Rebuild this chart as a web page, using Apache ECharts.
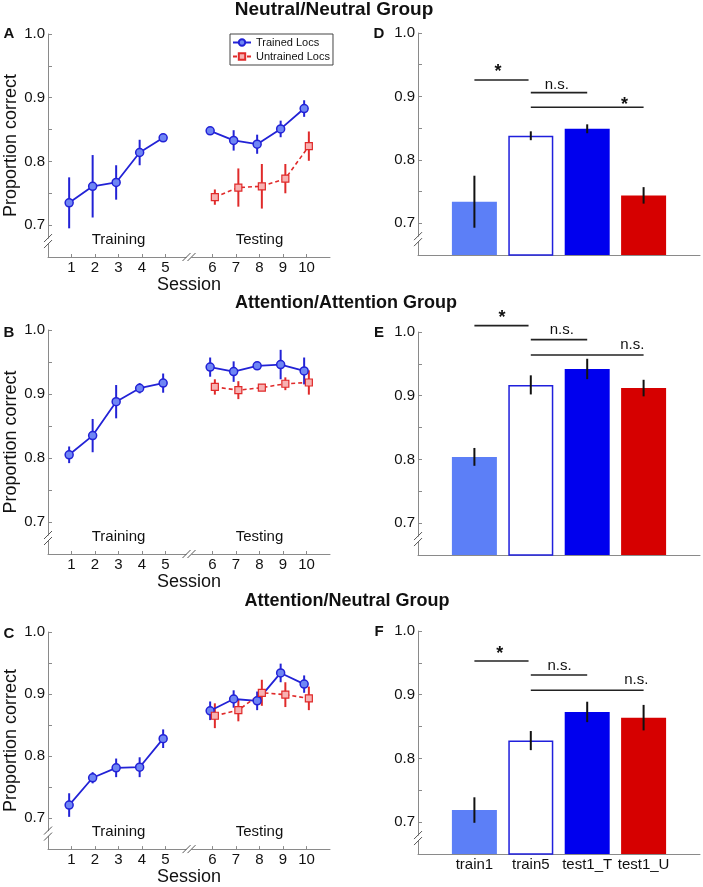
<!DOCTYPE html>
<html>
<head>
<meta charset="utf-8">
<script src="https://cdn.jsdelivr.net/npm/echarts@6/dist/echarts.min.js"></script>
<style>
  html, body { margin: 0; padding: 0; background: #fff; }
  #chart { width: 703px; height: 887px; }
</style>
</head>
<body>
<div id="chart"></div>
<script>
// ---- data ----
const sessions = [1, 2, 3, 4, 5, 6, 7, 8, 9, 10]
const testSessions = [6, 7, 8, 9, 10]
const barCategories = ['train1', 'train5', 'test1_T', 'test1_U']
const phaseLabels = ['Training', 'Testing']

// panel A : Neutral/Neutral
const trainedA = [0.735, 0.761, 0.767, 0.814, 0.837, 0.848, 0.833, 0.827, 0.851, 0.883]
const trainedErrA = [0.040, 0.049, 0.027, 0.020, 0.004, 0.006, 0.016, 0.015, 0.013, 0.013]
const untrainedA = [0.744, 0.759, 0.761, 0.773, 0.824]
const untrainedErrA = [0.012, 0.030, 0.035, 0.023, 0.023]

// panel B : Attention/Attention
const trainedB = [0.805, 0.835, 0.888, 0.909, 0.917, 0.942, 0.935, 0.944, 0.946, 0.936]
const trainedErrB = [0.013, 0.026, 0.026, 0.008, 0.015, 0.015, 0.016, 0.004, 0.023, 0.021]
const untrainedB = [0.911, 0.906, 0.910, 0.916, 0.918]
const untrainedErrB = [0.012, 0.014, 0.005, 0.010, 0.019]

// panel C : Attention/Neutral
const trainedC = [0.721, 0.765, 0.781, 0.782, 0.828, 0.873, 0.892, 0.889, 0.934, 0.916]
const trainedErrC = [0.019, 0.009, 0.015, 0.016, 0.015, 0.015, 0.014, 0.015, 0.015, 0.014]
const untrainedC = [0.865, 0.874, 0.902, 0.899, 0.893]
const untrainedErrC = [0.020, 0.018, 0.021, 0.020, 0.019]

// bar panels D, E, F
const barsD = [0.734, 0.838, 0.849, 0.744]
const barErrD = [0.041, 0.007, 0.007, 0.013]
const barsE = [0.804, 0.917, 0.942, 0.912]
const barErrE = [0.014, 0.015, 0.016, 0.013]
const barsF = [0.719, 0.828, 0.873, 0.864]
const barErrF = [0.020, 0.015, 0.016, 0.020]

// significance brackets: [fromBar, toBar, y] and their labels
const sigLinesD = [[1, 1.96, 0.926], [2, 3, 0.906], [2, 4, 0.883]]
const sigTextD = ['*', 'n.s.', '*']
const sigLinesE = [[1, 1.96, 1.010], [2, 3, 0.988], [2, 4, 0.964]]
const sigTextE = ['*', 'n.s.', 'n.s.']
const sigLinesF = [[1, 1.96, 0.953], [2, 3, 0.931], [2, 4, 0.907]]
const sigTextF = ['*', 'n.s.', 'n.s.']

// ---- styling ----
const FONT = '"Liberation Sans", Arial, Helvetica, sans-serif'
const BLUE = '#2222d6'
const BLUE_FILL = '#6f86f4'
const RED = '#e02a2a'
const RED_FILL = '#f7b2b2'
const AXIS = '#8a8a8a'
const TEXT = '#111'

const lineGrids = [
  { left: 48, top: 34, width: 282, height: 223 },
  { left: 48, top: 330, width: 282, height: 224 },
  { left: 48, top: 632, width: 282, height: 221 },
]
const barGrids = [
  { left: 418, top: 33, width: 282, height: 222 },
  { left: 418, top: 332, width: 282, height: 223 },
  { left: 418, top: 631, width: 282, height: 223 },
]

// sessions 6-10 sit one slot further right (axis break)
const pos = (s) => (s <= 5 ? s : s + 1)
const tickPositions = sessions.map(pos)
const OFF_T = -0.1
const OFF_U = 0.1

const yLabel = (v) => {
  const k = Math.round(v * 100)
  return k % 10 === 0 && k >= 70 ? (k / 100).toFixed(1) : ''
}

const yAxisFor = (gridIndex, named) => ({
  gridIndex,
  type: 'value',
  min: 0.65,
  max: 1.0,
  interval: 0.05,
  axisLine: { show: true, lineStyle: { color: AXIS, width: 1 } },
  axisTick: { show: true, inside: true, length: 4, lineStyle: { color: AXIS } },
  splitLine: { show: false },
  axisLabel: {
    fontFamily: FONT, fontSize: 15, color: TEXT, margin: 3,
    showMinLabel: true, showMaxLabel: true, formatter: yLabel,
  },
  name: named ? 'Proportion correct' : '',
  nameLocation: 'middle',
  nameGap: 26,
  nameTextStyle: { fontFamily: FONT, fontSize: 18, color: TEXT },
})

const sessionXAxis = (gridIndex) => ({
  gridIndex,
  type: 'value',
  min: 0,
  max: 12,
  interval: 1,
  axisLine: { show: true, lineStyle: { color: AXIS } },
  axisTick: { show: true, inside: true, length: 3, customValues: tickPositions, lineStyle: { color: AXIS } },
  splitLine: { show: false },
  axisLabel: {
    customValues: tickPositions,
    fontFamily: FONT, fontSize: 15, color: TEXT, margin: 3,
    formatter: (v) => {
      const i = tickPositions.indexOf(Math.round(v))
      return i >= 0 ? String(sessions[i]) : ''
    },
  },
  name: 'Session',
  nameLocation: 'middle',
  nameGap: 14,
  nameTextStyle: { fontFamily: FONT, fontSize: 18, color: TEXT },
})

const barXAxis = (gridIndex, showLabels) => ({
  gridIndex,
  type: 'value',
  min: 0,
  max: 5,
  interval: 1,
  axisLine: { show: true, lineStyle: { color: AXIS } },
  axisTick: { show: false },
  splitLine: { show: false },
  axisLabel: {
    show: showLabels,
    customValues: [1, 2, 3, 4],
    fontFamily: FONT, fontSize: 15, color: TEXT, margin: 3,
    formatter: (v) => barCategories[Math.round(v) - 1] || '',
  },
})

// ---- series helpers ----
const errorBars = (idx, items, color, width, z) => ({
  type: 'custom',
  xAxisIndex: idx,
  yAxisIndex: idx,
  silent: true,
  z,
  data: items,
  encode: { x: 0, y: [1, 2] },
  renderItem: (params, api) => {
    const lo = api.coord([api.value(0), api.value(1)])
    const hi = api.coord([api.value(0), api.value(2)])
    return {
      type: 'line',
      shape: { x1: lo[0], y1: lo[1], x2: hi[0], y2: hi[1] },
      style: { stroke: color, lineWidth: width },
    }
  },
})

const textMarks = (idx, points, texts) => ({
  type: 'custom',
  xAxisIndex: idx,
  yAxisIndex: idx,
  silent: true,
  z: 6,
  data: points,
  encode: { x: 0, y: 1 },
  renderItem: (params, api) => {
    const p = api.coord([api.value(0), api.value(1)])
    const t = texts[params.dataIndex]
    const star = t === '*'
    return {
      type: 'text',
      x: p[0],
      y: p[1] + (star ? 5 : 0),
      style: {
        text: t, fill: TEXT,
        font: (star ? 'bold 18px ' : '15px ') + FONT,
        align: 'center', verticalAlign: 'middle',
      },
    }
  },
})

const sigLines = (idx, lines) => ({
  type: 'custom',
  xAxisIndex: idx,
  yAxisIndex: idx,
  silent: true,
  z: 5,
  data: lines,
  encode: { x: [0, 1], y: 2 },
  renderItem: (params, api) => {
    const a = api.coord([api.value(0), api.value(2)])
    const b = api.coord([api.value(1), api.value(2)])
    return {
      type: 'line',
      shape: { x1: a[0], y1: a[1], x2: b[0], y2: b[1] },
      style: { stroke: '#222', lineWidth: 1.6 },
    }
  },
})

// axis break "//" marks: [x, y, 1 = on x axis]
const breakMarks = (idx, items) => ({
  type: 'custom',
  xAxisIndex: idx,
  yAxisIndex: idx,
  silent: true,
  z: 7,
  data: items,
  encode: { x: 0, y: 1 },
  renderItem: (params, api) => {
    const p = api.coord([api.value(0), api.value(1)])
    const onX = api.value(2) === 1
    const children = [{
      type: 'rect',
      shape: { x: p[0] - 2.5, y: p[1] - 2.5, width: 5, height: 5 },
      style: { fill: '#fff' },
    }]
    const shifts = onX ? [-2.5, 2.5] : [-3, 3]
    shifts.forEach((d) => {
      const cx = onX ? p[0] + d : p[0]
      const cy = onX ? p[1] : p[1] + d
      children.push({
        type: 'line',
        shape: { x1: cx - 4, y1: cy + 4, x2: cx + 4, y2: cy - 4 },
        style: { stroke: '#555', lineWidth: 1 },
      })
    })
    return { type: 'group', children }
  },
})

const trainedLine = (idx, data) => ({
  type: 'line',
  name: 'Trained Locs',
  xAxisIndex: idx,
  yAxisIndex: idx,
  data,
  z: 3,
  symbol: 'circle',
  symbolSize: 8,
  lineStyle: { color: BLUE, width: 1.8 },
  itemStyle: { color: BLUE_FILL, borderColor: BLUE, borderWidth: 1.5 },
  animation: false,
})

const untrainedLine = (idx, data) => ({
  type: 'line',
  name: 'Untrained Locs',
  xAxisIndex: idx,
  yAxisIndex: idx,
  data,
  z: 3,
  symbol: 'rect',
  symbolSize: 7,
  lineStyle: { color: RED, width: 1.6, type: [4, 3] },
  itemStyle: { color: RED_FILL, borderColor: RED, borderWidth: 1.2 },
  animation: false,
})

const linePanel = (idx, trained, trainedErr, untrained, untrainedErr) => {
  const tPts = sessions.map((s, i) => [pos(s) + OFF_T, trained[i]])
  const uPts = testSessions.map((s, i) => [pos(s) + OFF_U, untrained[i]])
  const tErr = sessions.map((s, i) => [pos(s) + OFF_T, trained[i] - trainedErr[i], trained[i] + trainedErr[i]])
  const uErr = testSessions.map((s, i) => [pos(s) + OFF_U, untrained[i] - untrainedErr[i], untrained[i] + untrainedErr[i]])
  return [
    trainedLine(idx, tPts.slice(0, 5)),
    trainedLine(idx, tPts.slice(5)),
    untrainedLine(idx, uPts),
    errorBars(idx, tErr, BLUE, 2, 2),
    errorBars(idx, uErr, RED, 2, 2),
    textMarks(idx, [[3, 0.677], [9, 0.677]], phaseLabels),
    breakMarks(idx, [[0, 0.675, 0], [6, 0.65, 1]]),
  ]
}

const barStyles = [
  { color: '#5c7ff7' },
  { color: '#fff', borderColor: '#1f1fdc', borderWidth: 1.5 },
  { color: '#0000ee' },
  { color: '#d60000' },
]

const barPanel = (idx, values, errs, lines, texts, textPts) => [
  {
    type: 'bar',
    xAxisIndex: idx,
    yAxisIndex: idx,
    barWidth: 45,
    clip: true,
    z: 2,
    animation: false,
    data: values.map((v, i) => ({ value: [i + 1, v], itemStyle: barStyles[i] })),
  },
  errorBars(idx, values.map((v, i) => [i + 1, v - errs[i], v + errs[i]]), '#111', 2, 4),
  sigLines(idx, lines),
  textMarks(idx, textPts, texts),
  breakMarks(idx, [[0, 0.675, 0]]),
]

// label positions for the significance marks (data coords)
const sigPtsD = [[1.42, 0.946], [2.46, 0.918], [3.66, 0.895]]
const sigPtsE = [[1.49, 1.030], [2.55, 1.003], [3.80, 0.980]]
const sigPtsF = [[1.45, 0.971], [2.51, 0.945], [3.87, 0.923]]

const titleText = (text, x, y, size) => ({
  type: 'text', x, y,
  style: { text, font: 'bold ' + size + 'px ' + FONT, fill: TEXT, align: 'center', verticalAlign: 'middle' },
})
const letter = (text, x, y) => titleText(text, x, y, 15)

const chart = echarts.init(document.getElementById('chart'))
chart.setOption({
  animation: false,
  textStyle: { fontFamily: FONT },
  grid: [...lineGrids, ...barGrids],
  xAxis: [
    sessionXAxis(0), sessionXAxis(1), sessionXAxis(2),
    barXAxis(3, false), barXAxis(4, false), barXAxis(5, true),
  ],
  yAxis: [
    yAxisFor(0, true), yAxisFor(1, true), yAxisFor(2, true),
    yAxisFor(3, false), yAxisFor(4, false), yAxisFor(5, false),
  ],
  legend: {
    data: ['Trained Locs', 'Untrained Locs'],
    left: 230,
    top: 34,
    orient: 'vertical',
    itemGap: 3,
    itemWidth: 18,
    itemHeight: 8,
    padding: [3, 3, 3, 2],
    backgroundColor: '#fff',
    borderColor: '#444',
    borderWidth: 1,
    borderRadius: 0,
    selectedMode: false,
    textStyle: { fontFamily: FONT, fontSize: 11, color: TEXT },
  },
  graphic: [
    titleText('Neutral/Neutral Group', 334, 10, 19),
    titleText('Attention/Attention Group', 346, 303, 18),
    titleText('Attention/Neutral Group', 347, 601, 18),
    letter('A', 9, 34),
    letter('B', 9, 333),
    letter('C', 9, 634),
    letter('D', 379, 34),
    letter('E', 379, 333),
    letter('F', 379, 632),
  ],
  series: [
    ...linePanel(0, trainedA, trainedErrA, untrainedA, untrainedErrA),
    ...linePanel(1, trainedB, trainedErrB, untrainedB, untrainedErrB),
    ...linePanel(2, trainedC, trainedErrC, untrainedC, untrainedErrC),
    ...barPanel(3, barsD, barErrD, sigLinesD, sigTextD, sigPtsD),
    ...barPanel(4, barsE, barErrE, sigLinesE, sigTextE, sigPtsE),
    ...barPanel(5, barsF, barErrF, sigLinesF, sigTextF, sigPtsF),
  ],
})
</script>
</body>
</html>
